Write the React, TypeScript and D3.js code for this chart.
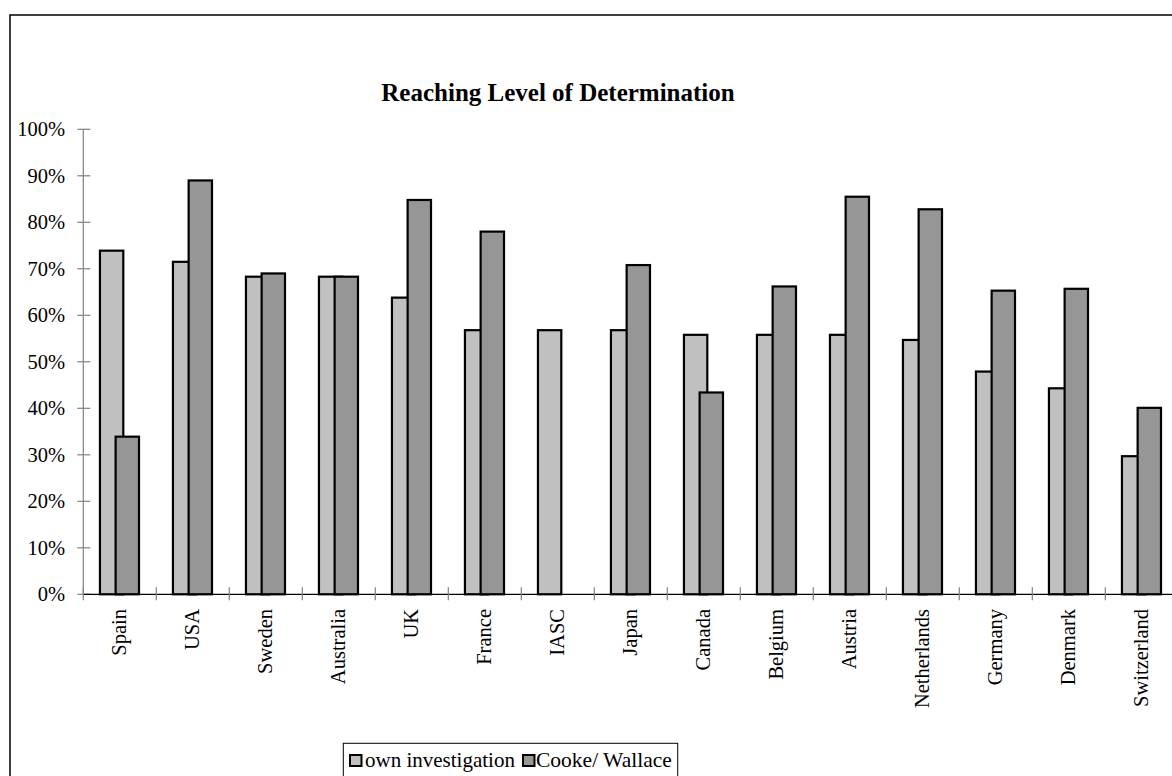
import React from "react";
import * as d3 from "d3";

const categories = ["Spain", "USA", "Sweden", "Australia", "UK", "France", "IASC", "Japan", "Canada", "Belgium", "Austria", "Netherlands", "Germany", "Denmark", "Switzerland"];
const ownInvestigation: (number | null)[] = [73.9, 71.5, 68.3, 68.3, 63.8, 56.8, 56.8, 56.8, 55.8, 55.8, 55.8, 54.7, 47.9, 44.3, 29.7];
const cookeWallace: (number | null)[] = [33.9, 89.0, 69.0, 68.3, 84.8, 78.0, null, 70.8, 43.4, 66.2, 85.5, 82.8, 65.3, 65.7, 40.1];
const yTicks = [0, 10, 20, 30, 40, 50, 60, 70, 80, 90, 100];
const seriesNames = ["own investigation", "Cooke/ Wallace"];
const seriesColors = ["#C0C0C0", "#969696"];

const W = 1172, H = 776;
const FONT = "'Liberation Serif', 'Times New Roman', serif";

export default function App() {
  const x = d3.scaleBand<string>().domain(categories).range([83.3, 1178.3]);
  const y = d3.scaleLinear().domain([0, 100]).range([594.3, 129.3]);
  const bw = x.bandwidth();
  const barW = bw * 0.32;
  const off0 = bw * 0.228;
  const off1 = off0 + bw * 0.215;
  const series = [ownInvestigation, cookeWallace];
  const offs = [off0, off1];

  return (
    <svg width={W} height={H} style={{ position: "absolute", left: 0, top: 0, display: "block", background: "#fff" }} fontFamily={FONT}>
      <rect x={10} y={15} width={1300} height={900} fill="#fff" stroke="#000" strokeWidth={1.5} />
      <text x={558} y={101} textAnchor="middle" fontSize={25} fontWeight="bold" fill="#000">Reaching Level of Determination</text>

      {/* y axis */}
      <line x1={x.range()[0]} x2={x.range()[0]} y1={y(100)} y2={y(0)} stroke="#808080" strokeWidth={1.2} />
      {yTicks.map((t) => (
        <g key={t}>
          <line x1={x.range()[0] - 6} x2={x.range()[0] + 7} y1={y(t)} y2={y(t)} stroke="#808080" strokeWidth={1.2} />
          <text x={65} y={y(t)} dy="0.35em" textAnchor="end" fontSize={20.5} fill="#000">{t + "%"}</text>
        </g>
      ))}

      {/* bars */}
      {series.map((s, si) => (
        <g key={si}>
          {categories.map((c, i) => {
            const v = s[i];
            if (v == null) return null;
            return (
              <rect key={c} x={(x(c) as number) + offs[si]} y={y(v)} width={barW} height={y(0) - y(v)}
                fill={seriesColors[si]} stroke="#000" strokeWidth={2.2} />
            );
          })}
        </g>
      ))}

      {/* x axis */}
      <line x1={x.range()[0]} x2={W + 10} y1={y(0)} y2={y(0)} stroke="#000" strokeWidth={1.2} />
      {categories.map((c) => (
        <line key={"t" + c} x1={x(c) as number} x2={x(c) as number} y1={y(0) - 7} y2={y(0) + 6} stroke="#808080" strokeWidth={1.2} />
      ))}
      {categories.map((c) => {
        const cx = (x(c) as number) + bw / 2 - 1;
        return (
          <text key={"l" + c} transform={`translate(${cx},609) rotate(-90)`} textAnchor="end" dy="0.35em" fontSize={20.5} fill="#000">{c}</text>
        );
      })}

      {/* legend */}
      <rect x={343.3} y={743.3} width={334.4} height={60} fill="#fff" stroke="#000" strokeWidth={1} />
      <rect x={350} y={755} width={11.5} height={11} fill={seriesColors[0]} stroke="#000" strokeWidth={2} />
      <text x={365} y={766.5} fontSize={21} fill="#000">{seriesNames[0]}</text>
      <rect x={523} y={755} width={11.5} height={11} fill={seriesColors[1]} stroke="#000" strokeWidth={2} />
      <text x={536} y={766.5} fontSize={21.5} fill="#000">{seriesNames[1]}</text>
    </svg>
  );
}
